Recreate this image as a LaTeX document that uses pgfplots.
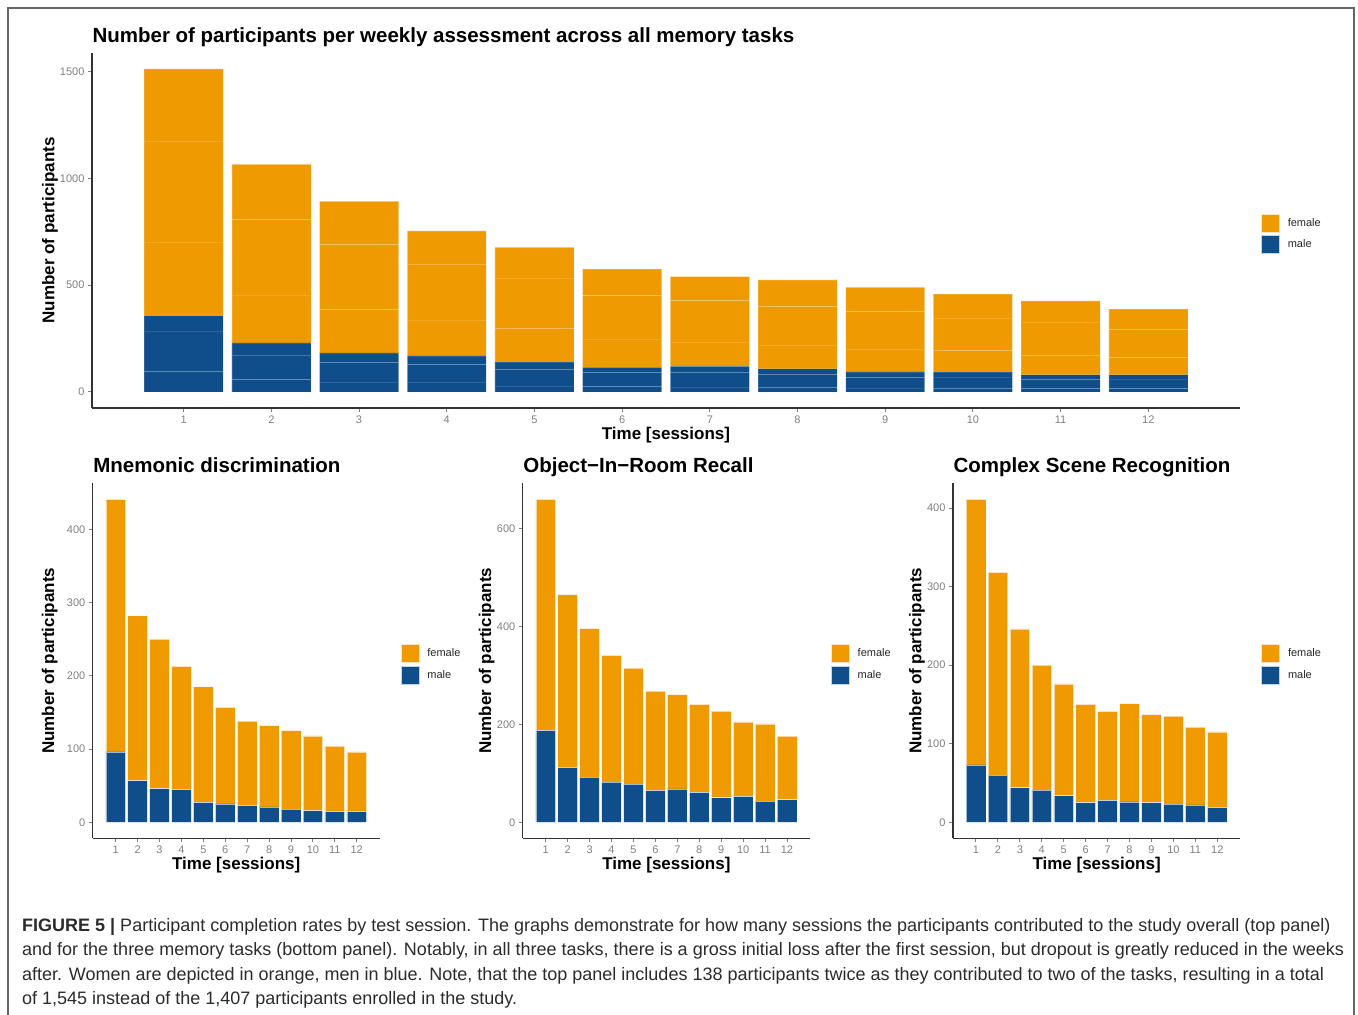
\documentclass[border=0pt]{standalone}
\usepackage{fontspec}
\setmainfont{Liberation Sans}
\usepackage{pgfplots}
\usepackage{pgfplotstable}
\pgfplotsset{compat=1.18}
\definecolor{forange}{HTML}{EE9A00}
\definecolor{mblue}{HTML}{104E8B}
\definecolor{tickgray}{HTML}{808080}
\definecolor{captxt}{HTML}{2B2B2B}

% session, male/female per task (MD = Mnemonic discrimination, OIR = Object-In-Room, CSR = Complex Scene)
\pgfplotstableread{
s  mdm mdf oirm oirf csrm csrf
1  96  345 188  472  73   338
2  57  225 112  353  60   258
3  46  204 92   304  44   202
4  45  168 82   259  41   159
5  27  158 78   237  34   142
6  25  132 65   203  25   125
7  23  115 68   193  28   113
8  21  111 61   180  26   125
9  18  107 50   177  25   112
10 16  102 53   152  23   112
11 15  89  43   158  22   99
12 15  81  46   130  19   96
}\data

\pgfplotsset{
  fkey/.style={legend image code/.code={\fill[forange, draw=white!75!forange, line width=0.6pt] (0pt,-9pt) rectangle (18pt,9pt);}},
  mkey/.style={legend image code/.code={\fill[mblue, draw=white!75!mblue, line width=0.6pt] (0pt,-9pt) rectangle (18pt,9pt);}},
  panel/.style={
    scale only axis, ybar stacked, bar width=0.9,
    xmin=-0.045, xmax=13.045, xtick={1,...,12},
    axis x line=bottom, axis y line=left,
    axis line style={-, draw=black!80, line width=1.1pt},
    tick style={draw=black!50, line width=0.9pt},
    major tick length=4pt, tick align=outside,
    ticklabel style={font=\fontsize{11}{11}\selectfont, text=tickgray},
    /pgf/number format/assume math mode=true,
    /pgf/number format/1000 sep={},
    scaled y ticks=false,
    xlabel={Time [sessions]}, ylabel={Number of participants},
    every axis x label/.style={at={(axis description cs:0.5,0)}, anchor=center, yshift=-27pt, font=\bfseries\fontsize{17}{17}\selectfont},
    every axis title/.style={at={(axis description cs:0,1)}, anchor=base west, xshift=-3pt, yshift=10.5pt, font=\bfseries\fontsize{20.5}{20.5}\selectfont},
    legend style={at={(1,0.5)}, anchor=west, xshift=21pt, yshift=-3.5pt, draw=none, fill=none, inner sep=0pt,
      font=\fontsize{11}{11}\selectfont, text=black!85, row sep=3pt, column sep=8pt, nodes={inner sep=0pt}},
    legend cell align=left,
  },
  ylab/.style={every axis y label/.style={at={(axis description cs:0,0.5)}, anchor=center, rotate=90, yshift=#1, font=\bfseries\fontsize{17}{17}\selectfont}},
  mbar/.style={fill=mblue, draw=white, draw opacity=#1, line width=0.6pt},
  fbar/.style={fill=forange, draw=white, draw opacity=#1, line width=0.6pt},
}

\begin{document}
\begin{tikzpicture}[x=1pt,y=1pt]
\draw[black!60, line width=1.3pt] (8pt,-2pt) -- (8pt,1007pt) -- (1354pt,1007pt) -- (1354pt,-2pt);

% ---------- top panel ----------
\begin{axis}[panel, ylab=42pt, at={(92pt,607pt)}, anchor=south west, width=1148pt, height=355.2pt,
  ymin=-75.6, ymax=1587.6, ytick={0,500,1000,1500},
  title={Number of participants per weekly assessment across all memory tasks}]
\addlegendimage{fkey}\addlegendentry{female}
\addlegendimage{mkey}\addlegendentry{male}
\addplot[mbar=0.12] table[x=s,y=mdm]{\data};
\addplot[mbar=0.12] table[x=s,y=oirm]{\data};
\addplot[mbar=0.12] table[x=s,y=csrm]{\data};
\addplot[fbar=0.15] table[x=s,y=mdf]{\data};
\addplot[fbar=0.15] table[x=s,y=oirf]{\data};
\addplot[fbar=0.15] table[x=s,y=csrf]{\data};
\end{axis}

% ---------- Mnemonic discrimination ----------
\begin{axis}[panel, ylab=43pt, at={(92.8pt,176.6pt)}, anchor=south west, width=286.8pt, height=355.2pt,
  ymin=-22.05, ymax=463.05, ytick={0,100,200,300,400},
  title={Mnemonic discrimination}]
\addlegendimage{fkey}\addlegendentry{female}
\addlegendimage{mkey}\addlegendentry{male}
\addplot[mbar=0.6] table[x=s,y=mdm]{\data};
\addplot[fbar=0.6] table[x=s,y=mdf]{\data};
\end{axis}

% ---------- Object-In-Room Recall ----------
\begin{axis}[panel, ylab=36pt, at={(522.8pt,176.6pt)}, anchor=south west, width=287.1pt, height=355.2pt,
  ymin=-33, ymax=693, ytick={0,200,400,600},
  title={Object−In−Room Recall}]
\addlegendimage{fkey}\addlegendentry{female}
\addlegendimage{mkey}\addlegendentry{male}
\addplot[mbar=0.6] table[x=s,y=oirm]{\data};
\addplot[fbar=0.6] table[x=s,y=oirf]{\data};
\end{axis}

% ---------- Complex Scene Recognition ----------
\begin{axis}[panel, ylab=36pt, at={(953pt,176.6pt)}, anchor=south west, width=287.2pt, height=355.2pt,
  ymin=-20.55, ymax=431.55, ytick={0,100,200,300,400},
  title={Complex Scene Recognition}]
\addlegendimage{fkey}\addlegendentry{female}
\addlegendimage{mkey}\addlegendentry{male}
\addplot[mbar=0.6] table[x=s,y=csrm]{\data};
\addplot[fbar=0.6] table[x=s,y=csrf]{\data};
\end{axis}

% ---------- caption ----------
\node[anchor=base west, align=left, inner sep=0pt, text=captxt, font=\fontsize{18}{24.6}\selectfont] at (22pt,10pt)
{\textbf{FIGURE 5 |} Participant completion rates by test session. The graphs demonstrate for how many sessions the participants contributed to the study overall (top panel)\\
and for the three memory tasks (bottom panel). Notably, in all three tasks, there is a gross initial loss after the first session, but dropout is greatly reduced in the weeks\\
after. Women are depicted in orange, men in blue. Note, that the top panel includes 138 participants twice as they contributed to two of the tasks, resulting in a total\\
of 1,545 instead of the 1,407 participants enrolled in the study.};

\pgfresetboundingbox
\useasboundingbox (0pt,0pt) rectangle (1358pt,1015pt);
\end{tikzpicture}
\end{document}
